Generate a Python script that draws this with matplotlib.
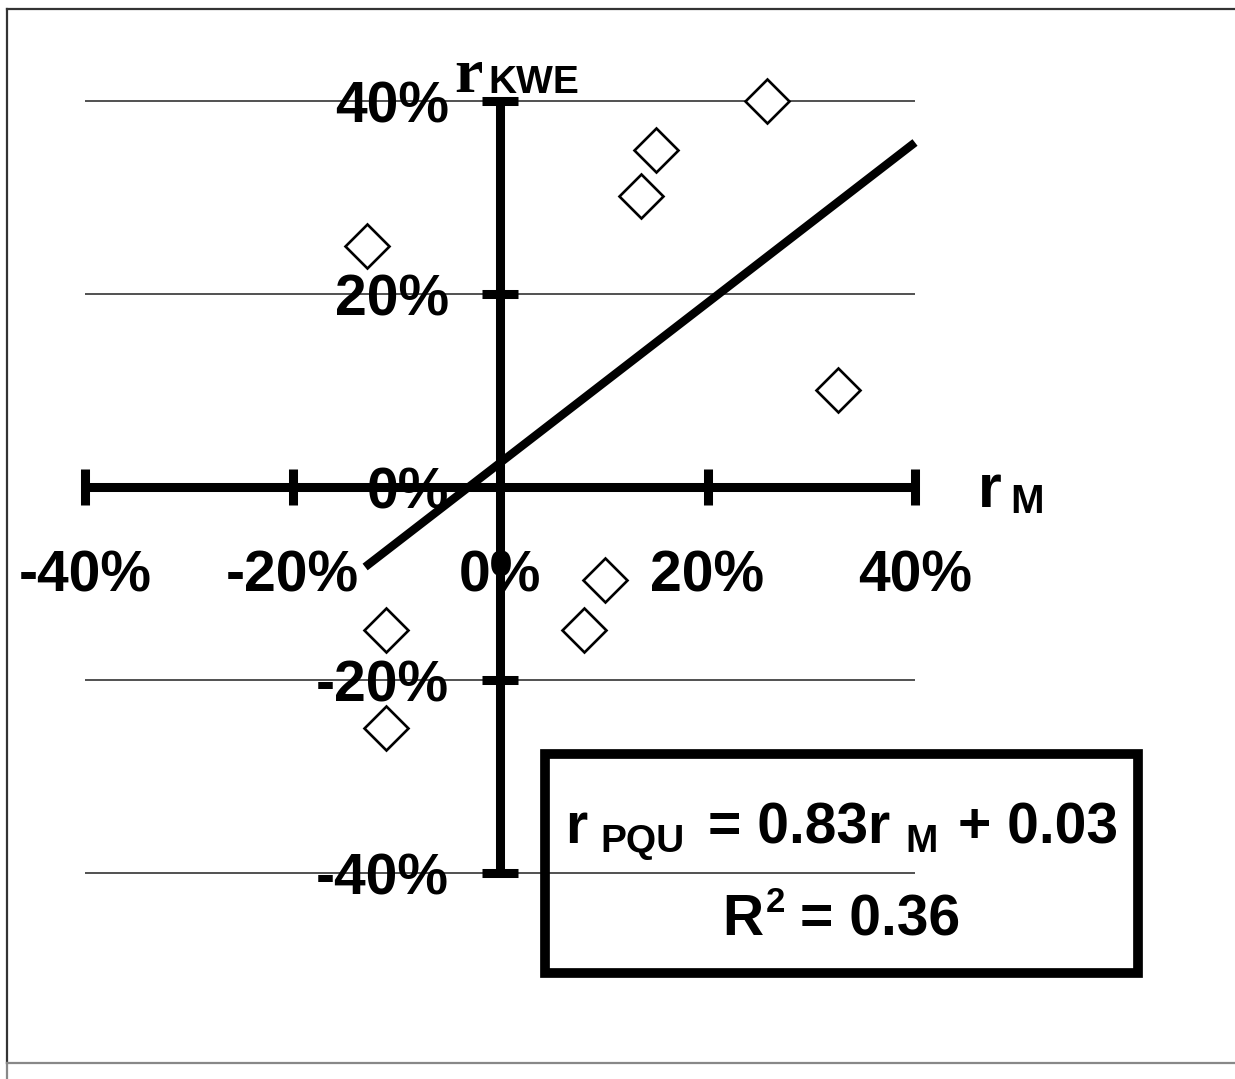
import numpy as np
import matplotlib
matplotlib.use("Agg")
import matplotlib.pyplot as plt
from matplotlib.lines import Line2D
from matplotlib.patches import Rectangle
from matplotlib.transforms import offset_copy

# ---- data ----
r_m = [0.257, 0.150, 0.136, -0.128, 0.326, 0.101, 0.081, -0.110, -0.110]
r_kwe = [0.400, 0.349, 0.302, 0.250, 0.101, -0.096, -0.148, -0.148, -0.250]
slope = 0.83
intercept = 0.025
fit_x = [-0.13, 0.40]
x_ticks = [-0.4, -0.2, 0.0, 0.2, 0.4]
x_tick_labels = ["-40%", "-20%", "0%", "20%", "40%"]
y_ticks = [0.4, 0.2, 0.0, -0.2, -0.4]
y_tick_labels = ["40%", "20%", "0%", "-20%", "-40%"]
grid_levels = [0.4, 0.2, -0.2, -0.4]

W, H = 1235, 1079
fig = plt.figure(figsize=(W / 100, H / 100), dpi=100)
ax = fig.add_axes([0, 0, 1, 1])
ax.set_axis_off()
# pixel mapping: x 0 at 500px, 1037.5 px/unit ; y 0 at 487px, 965 px/unit
ax.set_xlim(-500 / 1037.5, (W - 500) / 1037.5)
ax.set_ylim((487 - H) / 965, 487 / 965)

SANS = "Liberation Sans"
SERIF = "Liberation Serif"

# gridlines
for g in grid_levels:
    ax.plot([-0.4, 0.4], [g, g], color="#222222", lw=1.1, zorder=1, solid_capstyle="butt")

# axes
AXW = 6.5
ax.plot([-0.4, 0.4], [0, 0], color="black", lw=AXW, zorder=3, solid_capstyle="butt")
ax.plot([0, 0], [-0.4, 0.4], color="black", lw=AXW, zorder=3, solid_capstyle="butt")
tx = 18 / 965
ty = 18 / 1037.5
for xt in x_ticks:
    if xt != 0:
        ax.plot([xt, xt], [-tx, tx], color="black", lw=AXW, zorder=3, solid_capstyle="butt")
for yt in y_ticks:
    if yt != 0:
        ax.plot([-ty, ty], [yt, yt], color="black", lw=AXW, zorder=3, solid_capstyle="butt")

# tick labels
for xt, lab in zip(x_ticks, x_tick_labels):
    ax.text(xt, -0.1078, lab, fontsize=41, family=SANS, weight="bold",
            ha="center", va="baseline", zorder=2)
for yt, lab in zip(y_ticks, y_tick_labels):
    ax.text(-0.049, yt - 0.0225, lab, fontsize=41, family=SANS, weight="bold",
            ha="right", va="baseline", zorder=2)

# regression line
fx = np.array(fit_x)
ax.plot(fx, slope * fx + intercept, color="black", lw=6, zorder=4, solid_capstyle="butt")

# points
ax.plot(r_m, r_kwe, linestyle="none", marker="D", markersize=22,
        markerfacecolor="white", markeredgecolor="black", markeredgewidth=1.9, zorder=5)

renderer = fig.canvas.get_renderer()


def chain(x, y, pieces, align="left"):
    texts = []
    widths = []
    for s, size, fam, gap, dy in pieces:
        t = ax.text(x, y, s, fontsize=size, family=fam, weight="bold",
                    ha="left", va="baseline", zorder=6)
        widths.append(t.get_window_extent(renderer).width)
        texts.append(t)
    total = sum(p[3] for p in pieces) + sum(widths)
    cur = -total / 2 if align == "center" else 0.0
    for t, p, w in zip(texts, pieces, widths):
        cur += p[3]
        t.set_transform(offset_copy(ax.transData, fig=fig, x=cur, y=p[4], units="dots"))
        cur += w


# y-axis title r_KWE
chain(-0.0445, 0.409, [("r", 46, SERIF, 0, 0), ("KWE", 28, SANS, 6, -1)])
# x-axis title r_M
chain(0.4607, -0.0207, [("r", 44, SANS, 0, 0), ("M", 29, SANS, 9, -6)])

# equation box
bx0, bx1 = (545 - 500) / 1037.5, (1138 - 500) / 1037.5
by0, by1 = (487 - 973) / 965, (487 - 754) / 965
ax.add_patch(Rectangle((bx0, by0), bx1 - bx0, by1 - by0, fill=False,
                       edgecolor="black", lw=7, zorder=6, joinstyle="miter"))
cx = (841.5 - 500) / 1037.5
chain(cx, (487 - 843) / 965, [("r", 41, SANS, 0, 0), ("PQU", 28, SANS, 13, -9),
                              ("= 0.83r", 41, SANS, 24, 0), ("M", 28, SANS, 15, -9),
                              ("+ 0.03", 41, SANS, 20, 0)], align="center")
chain(cx, (487 - 935) / 965, [("R", 41, SANS, 0, 0), ("2", 25, SANS, 2, 23),
                              ("= 0.36", 41, SANS, 15, 0)], align="center")

# outer frame
fx0 = 7 / W
fy_top = 1 - 9 / H
fy_bot = 1 - 1063 / H
fig.add_artist(Line2D([fx0, 1], [fy_top, fy_top], transform=fig.transFigure, color="#333333", lw=1.6))
fig.add_artist(Line2D([fx0, fx0], [fy_top, fy_bot], transform=fig.transFigure, color="#333333", lw=1.6))
fig.add_artist(Line2D([fx0, fx0], [fy_bot, 0], transform=fig.transFigure, color="#888888", lw=1.6))
fig.add_artist(Line2D([fx0, 1], [fy_bot, fy_bot], transform=fig.transFigure, color="#888888", lw=1.6))

fig.savefig("out.png", dpi=100, facecolor="white")
